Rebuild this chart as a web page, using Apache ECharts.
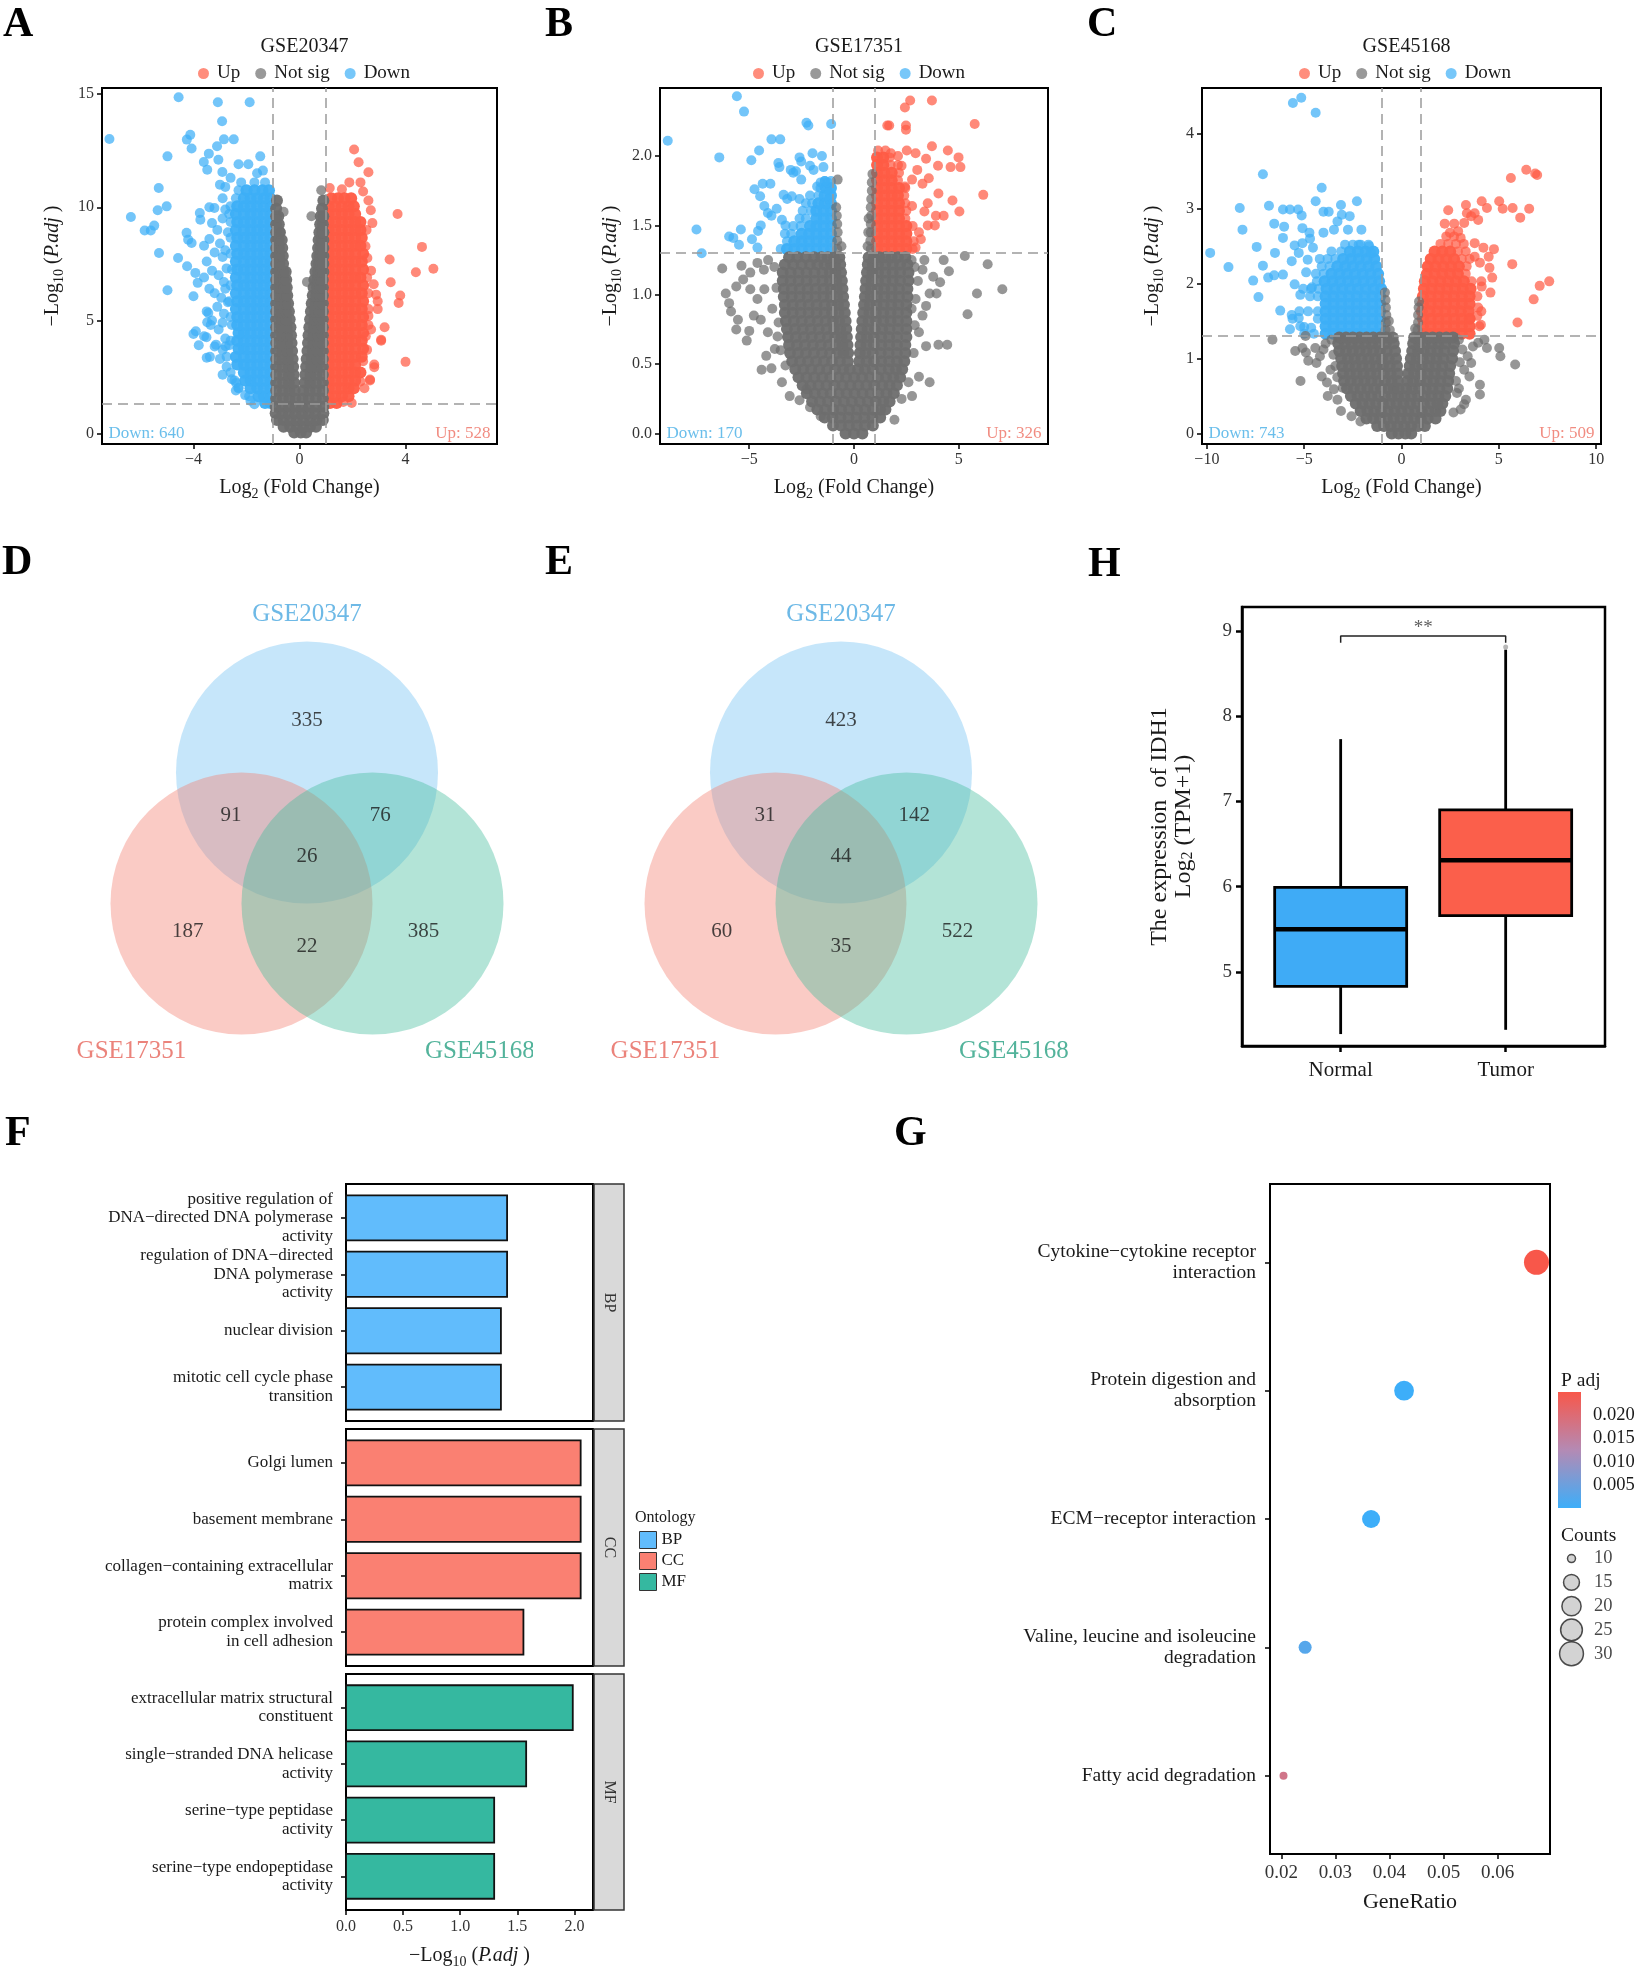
<!DOCTYPE html>
<html><head><meta charset="utf-8"><title>Figure</title>
<script src="https://cdn.jsdelivr.net/npm/echarts@6/dist/echarts.min.js"></script>
<style>html,body{margin:0;padding:0;background:#fff;}#chart{width:1642px;height:1977px;}</style>
</head><body><div id="chart"></div>
<script>
// ================= DATA =================
// --- Volcano plots (x = log2 FC, y = -log10 P.adj) ---
const volcanoTitles = ['GSE20347', 'GSE17351', 'GSE45168'];
const downCounts = [640, 170, 743];
const upCounts = [528, 326, 509];
const fcCut = 1, pCut = 0.05;
const xTicksVolcano = [[-4, 0, 4], [-5, 0, 5], [-10, -5, 0, 5, 10]];
const yTicksVolcano = [[0, 5, 10, 15], [0, 0.5, 1, 1.5, 2], [0, 1, 2, 3, 4]];

// dense (over-plotted) areas as rows: [y, [x, x, ...]];  sparser points: flat [x, y, x, y, ...]
const greyA = [
[0.05,[-0.2,0.05,0.25]],[0.3,[-0.6,-0.35,-0.1,0.15,0.4,0.62]],[0.6,[-0.85,-0.6,-0.35,-0.1,0.15,0.4,0.65,0.88]],
[0.9,[-0.9,-0.65,-0.4,-0.15,0.1,0.35,0.6,0.9]],[1.2,[-0.9,-0.65,-0.4,-0.15,0.1,0.35,0.62,0.9]],
[1.55,[-0.88,-0.62,-0.38,-0.15,0.12,0.35,0.62,0.88]],[1.9,[-0.88,-0.62,-0.38,-0.18,0.15,0.38,0.62,0.88]],
[2.25,[-0.88,-0.62,-0.4,-0.2,0.2,0.4,0.62,0.88]],[2.6,[-0.88,-0.62,-0.4,-0.22,0.22,0.42,0.64,0.88]],
[2.95,[-0.88,-0.64,-0.42,-0.24,0.25,0.45,0.66,0.88]],[3.3,[-0.88,-0.64,-0.44,-0.26,0.27,0.47,0.67,0.88]],
[3.65,[-0.88,-0.65,-0.45,-0.28,0.3,0.5,0.69,0.88]],[4.0,[-0.88,-0.66,-0.46,-0.3,0.32,0.52,0.7,0.88]],
[4.35,[-0.88,-0.66,-0.47,-0.32,0.34,0.53,0.71,0.88]],[4.7,[-0.88,-0.67,-0.48,-0.34,0.37,0.55,0.72,0.88]],
[5.05,[-0.88,-0.68,-0.5,-0.37,0.4,0.57,0.73,0.88]],[5.4,[-0.88,-0.69,-0.51,-0.4,0.43,0.59,0.74,0.88]],
[5.75,[-0.88,-0.7,-0.53,-0.43,0.46,0.61,0.75,0.88]],[6.1,[-0.88,-0.7,-0.55,-0.46,0.5,0.63,0.77,0.88]],
[6.45,[-0.88,-0.72,-0.56,-0.48,0.53,0.66,0.78,0.88]],[6.8,[-0.88,-0.73,-0.58,-0.5,0.56,0.68,0.8,0.88]],
[7.15,[-0.88,-0.74,-0.6,-0.52,0.6,0.7,0.82,0.9]],[7.5,[-0.88,-0.75,-0.62,0.64,0.73,0.83,0.9]],
[7.85,[-0.88,-0.76,-0.63,0.67,0.76,0.85,0.9]],[8.2,[-0.88,-0.77,-0.65,0.7,0.8,0.9]],
[8.55,[-0.88,-0.78,-0.67,0.72,0.82,0.9]],[8.9,[-0.88,-0.75,0.75,0.85,0.9]],
[9.25,[-0.88,-0.78,0.78,0.88]],[9.6,[-0.88,-0.8,0.8,0.9]],[9.95,[-0.88,0.85]],
[10.3,[-0.85,0.9]]
];
const greyAx = [0.28,6.7,-0.7,8.9,0.45,9.6,-0.6,9.8,0.82,10.75];
const blueA = [
[1.35,[-1.1,-1.3]],[1.65,[-1.1,-1.35,-1.55]],[2.0,[-1.1,-1.35,-1.6,-1.85]],
[2.35,[-1.1,-1.35,-1.6,-1.85,-2.05]],[2.7,[-1.1,-1.35,-1.6,-1.85,-2.1]],
[3.05,[-1.1,-1.35,-1.6,-1.85,-2.1,-2.35]],[3.4,[-1.1,-1.35,-1.6,-1.85,-2.1,-2.4]],
[3.75,[-1.1,-1.35,-1.6,-1.85,-2.1,-2.3]],[4.1,[-1.1,-1.35,-1.6,-1.85,-2.1,-2.35]],
[4.45,[-1.1,-1.35,-1.6,-1.85,-2.1,-2.3]],[4.8,[-1.1,-1.35,-1.6,-1.85,-2.1,-2.35]],
[5.15,[-1.1,-1.35,-1.6,-1.85,-2.1,-2.35]],[5.5,[-1.1,-1.35,-1.6,-1.85,-2.1,-2.4]],
[5.85,[-1.1,-1.35,-1.6,-1.85,-2.1,-2.35]],[6.2,[-1.1,-1.35,-1.6,-1.85,-2.1,-2.4]],
[6.55,[-1.1,-1.35,-1.6,-1.85,-2.1,-2.35]],[6.9,[-1.1,-1.35,-1.6,-1.85,-2.1,-2.4]],
[7.25,[-1.1,-1.35,-1.6,-1.85,-2.1,-2.35]],[7.6,[-1.1,-1.35,-1.6,-1.85,-2.1,-2.4]],
[7.95,[-1.1,-1.35,-1.6,-1.85,-2.1,-2.35]],[8.3,[-1.1,-1.35,-1.6,-1.85,-2.1,-2.4]],
[8.65,[-1.1,-1.35,-1.6,-1.85,-2.1,-2.35]],[9.0,[-1.1,-1.35,-1.6,-1.85,-2.1,-2.4]],
[9.35,[-1.1,-1.35,-1.6,-1.85,-2.1,-2.35]],[9.7,[-1.1,-1.35,-1.6,-1.85,-2.1,-2.4]],
[10.05,[-1.1,-1.35,-1.6,-1.85,-2.1,-2.35]],[10.4,[-1.1,-1.35,-1.6,-1.85,-2.1]],
[10.75,[-1.15,-1.4,-1.7,-2.0]]
];
const blueAx = [-4.56,14.86,-3.08,14.64,-1.88,14.64,-2.92,13.8,-7.17,13.02,-4.25,12.99,-4.12,13.2,-4.07,12.6,-2.85,13.0,-2.48,13.0,-3.11,12.7,-4.98,12.25,-3.42,12.37,-3.61,12.0,-3.48,11.66,-3.06,12.1,-2.91,11.56,-2.3,11.9,-1.93,11.9,-1.48,12.25,-1.38,11.62,-1.6,11.5,-2.6,11.3,-2.8,10.9,-5.31,10.85,-5.01,10.04,-5.35,9.87,-6.36,9.57,-5.84,8.97,-5.61,8.97,-5.48,9.19,-5.3,7.98,-4.58,7.76,-4.26,8.87,-4.2,8.57,-4.07,8.42,-3.76,9.75,-3.74,9.45,-3.21,9.97,-4.24,7.39,-3.93,7.1,-4.0,6.07,-3.84,6.66,-4.98,6.33,-3.3,9.3,-3.1,9.0,-2.9,9.5,-3.4,8.6,-3.6,8.3,-3.2,8.0,-3.0,8.4,-2.9,7.8,-3.5,7.6,-3.3,7.2,-3.05,7.0,-2.85,6.7,-3.6,6.9,-3.4,6.4,-3.2,6.2,-2.95,6.0,-3.1,5.6,-2.85,5.3,-3.3,5.0,-3.5,5.4,-2.9,4.9,-4.0,4.4,-3.6,4.3,-3.35,4.8,-3.05,4.6,-2.8,4.2,-3.8,3.9,-3.2,3.85,-2.9,3.7,-3.5,3.35,-3.0,3.3,-2.75,2.95,-2.55,2.4,-2.9,2.6,-2.4,1.9,-2.05,1.7,-1.85,1.45,-1.7,1.3,-2.65,3.9,-2.7,5.8,-2.8,6.4,-2.75,7.3,-2.8,8.1,-2.7,8.9,-2.8,9.9,-2.9,10.4,-3.4,10.0,-3.0,11.0,-3.91,4.52,-3.51,4.26,-3.15,3.93,-2.79,3.86,-3.38,3.39,-3.48,4.92,-3.44,5.33,-2.39,2.24,-2.3,2.02,-1.9,1.65,-2.3,2.0,-2.45,2.35,-2.6,2.7,-2.75,3.4,-2.6,4.1,-2.55,4.8,-2.6,5.15,-2.65,5.85,-2.6,6.55,-2.55,7.25,-2.6,7.95,-2.6,8.65,-2.6,9.35,-2.65,9.7,-2.6,10.05,-2.4,10.4,-2.3,10.75,-1.3,11.1,-1.7,11.1,-2.2,11.1];
const redA = [
[1.35,[1.15,1.4]],[1.65,[1.1,1.35,1.6,1.85]],[2.0,[1.1,1.35,1.6,1.85,2.05]],
[2.35,[1.1,1.35,1.6,1.85,2.1]],[2.7,[1.1,1.35,1.6,1.85,2.1,2.3]],[3.05,[1.1,1.35,1.6,1.85,2.1]],
[3.4,[1.1,1.35,1.6,1.85,2.1,2.35]],[3.75,[1.1,1.35,1.6,1.85,2.1,2.4]],[4.1,[1.1,1.35,1.6,1.85,2.1,2.35]],
[4.45,[1.1,1.35,1.6,1.85,2.1,2.4]],[4.8,[1.1,1.35,1.6,1.85,2.1,2.35]],[5.15,[1.1,1.35,1.6,1.85,2.1,2.4]],
[5.5,[1.1,1.35,1.6,1.85,2.1,2.35]],[5.85,[1.1,1.35,1.6,1.85,2.1,2.4]],[6.2,[1.1,1.35,1.6,1.85,2.1,2.35]],
[6.55,[1.1,1.35,1.6,1.85,2.1,2.4]],[6.9,[1.1,1.35,1.6,1.85,2.1,2.3]],[7.25,[1.1,1.35,1.6,1.85,2.1,2.4]],
[7.6,[1.1,1.35,1.6,1.85,2.1,2.35]],[7.95,[1.1,1.35,1.6,1.85,2.1,2.4]],[8.3,[1.1,1.35,1.6,1.85,2.1,2.3]],
[8.65,[1.1,1.35,1.6,1.85,2.1,2.35]],[9.0,[1.1,1.35,1.6,1.85,2.1,2.3]],[9.35,[1.1,1.35,1.6,1.85,2.1,2.3]],
[9.7,[1.1,1.35,1.6,1.85,2.1]],[10.05,[1.1,1.35,1.6,1.85,2.05]],[10.4,[1.2,1.45,1.7,1.95]]
];
const redAx = [2.06,12.55,2.23,11.99,2.6,11.55,2.3,11.1,1.88,11.1,1.14,10.85,1.6,10.8,2.69,9.87,3.7,9.7,4.62,8.25,4.39,7.13,5.05,7.28,3.4,7.69,3.44,6.69,3.8,6.1,3.74,5.77,2.89,6.14,2.95,5.85,3.21,4.7,3.08,4.15,4.0,3.17,2.82,2.93,2.66,2.39,2.56,7.76,2.53,9.0,2.49,8.28,2.7,7.2,2.8,6.6,2.6,5.2,2.7,4.6,2.5,4.3,2.55,3.7,2.4,3.2,2.45,2.0,1.97,1.35,1.65,1.4,2.95,5.5,2.75,9.3,2.6,10.3,2.4,10.7,2.66,2.35,2.82,3.05,3.08,4.1,2.6,4.8,2.6,5.5,2.6,6.2,2.55,6.9,2.3,2.3];

const greyB = [
[0.0,[-0.4,0,0.4]],[0.058,[-1.0,-0.62,-0.24,0.14,0.52,0.9]],[0.116,[-1.4,-1.02,-0.64,-0.26,0.12,0.5,0.88,1.25]],
[0.174,[-1.75,-1.37,-0.99,-0.61,-0.23,0.15,0.53,0.91,1.25,1.5]],
[0.232,[-2.0,-1.62,-1.24,-0.86,-0.48,-0.1,0.28,0.66,1.04,1.4,1.7]],
[0.29,[-2.25,-1.87,-1.49,-1.11,-0.73,-0.35,0.03,0.41,0.79,1.17,1.55,1.9]],
[0.348,[-2.45,-2.07,-1.69,-1.31,-0.93,-0.55,-0.17,0.21,0.59,0.97,1.35,1.7,2.05]],
[0.406,[-2.65,-2.27,-1.89,-1.51,-1.13,-0.75,-0.37,0.01,0.39,0.77,1.15,1.53,1.88,2.2]],
[0.464,[-2.8,-2.42,-2.04,-1.66,-1.28,-0.9,-0.52,-0.2,0.2,0.52,0.9,1.28,1.66,2.0,2.3]],
[0.522,[-2.95,-2.57,-2.19,-1.81,-1.43,-1.05,-0.67,-0.3,0.25,0.6,0.95,1.3,1.68,2.05,2.4]],
[0.58,[-3.05,-2.67,-2.29,-1.91,-1.53,-1.15,-0.8,-0.5,-0.28,0.28,0.55,0.9,1.28,1.66,2.05,2.45]],
[0.638,[-3.1,-2.72,-2.34,-1.96,-1.58,-1.2,-0.85,-0.55,-0.31,0.31,0.6,0.95,1.3,1.68,2.06,2.45]],
[0.696,[-3.15,-2.77,-2.39,-2.01,-1.63,-1.25,-0.9,-0.6,-0.34,0.34,0.62,0.95,1.3,1.68,2.06,2.5]],
[0.754,[-3.2,-2.82,-2.44,-2.06,-1.68,-1.3,-0.95,-0.65,-0.37,0.37,0.65,1.0,1.35,1.7,2.1,2.5]],
[0.812,[-3.25,-2.87,-2.49,-2.11,-1.73,-1.35,-1.0,-0.7,-0.4,0.4,0.7,1.05,1.4,1.75,2.1,2.5]],
[0.87,[-3.3,-2.92,-2.54,-2.16,-1.78,-1.4,-1.05,-0.74,-0.44,0.44,0.74,1.05,1.4,1.75,2.1,2.5]],
[0.928,[-3.3,-2.92,-2.54,-2.16,-1.78,-1.4,-1.05,-0.76,-0.48,0.48,0.76,1.08,1.42,1.78,2.12,2.5]],
[0.986,[-3.35,-2.97,-2.59,-2.21,-1.83,-1.45,-1.1,-0.8,-0.52,0.52,0.8,1.1,1.45,1.8,2.15,2.55]],
[1.044,[-3.35,-2.97,-2.59,-2.21,-1.83,-1.45,-1.1,-0.82,-0.55,0.55,0.82,1.12,1.45,1.8,2.15,2.55]],
[1.102,[-3.4,-3.02,-2.64,-2.26,-1.88,-1.5,-1.15,-0.85,-0.58,0.58,0.85,1.15,1.5,1.85,2.2,2.6]],
[1.16,[-3.4,-3.02,-2.64,-2.26,-1.88,-1.5,-1.15,-0.88,-0.62,0.62,0.88,1.15,1.5,1.85,2.2,2.6]],
[1.218,[-3.3,-2.9,-2.5,-2.1,-1.75,-1.4,-1.1,-0.9,-0.66,0.66,0.9,1.15,1.5,1.85,2.2,2.55]],
[1.27,[-3.1,-2.7,-2.3,-1.9,-1.55,-1.25,-0.95,-0.7,0.7,0.95,1.2,1.5,1.8,2.1,2.45]]
];
const greyBx = [-0.8,1.33,-0.8,1.39,-0.78,1.45,-0.8,1.51,-0.82,1.57,-0.85,1.63,-0.78,1.83,-0.6,1.35,0.8,1.33,0.78,1.39,0.8,1.45,0.8,1.51,0.82,1.57,0.8,1.63,0.82,1.69,0.85,1.75,0.85,1.81,0.88,1.87,0.65,1.35,0.68,1.45,0.7,1.55,-6.29,1.19,-6.12,1.01,-5.96,0.94,-5.87,0.88,-5.54,0.82,-5.62,0.75,-5.12,0.67,-5.0,0.74,-4.41,0.46,-3.94,0.47,-3.07,0.27,-2.1,0.19,-1.59,0.125,4.28,1.25,5.29,1.28,6.38,1.22,5.87,1.01,7.08,1.04,5.42,0.86,4.53,1.17,4.11,1.09,3.94,1.01,3.61,1.01,4.03,0.64,4.45,0.64,3.44,0.63,3.61,0.37,3.1,0.41,2.77,0.27,3.36,1.25,3.27,1.18,3.78,1.13,-5.37,1.21,-5.29,1.11,-4.95,1.16,-4.61,1.23,-5.62,1.06,-4.95,1.04,-4.61,0.97,-4.28,1.04,-4.78,0.85,-4.45,0.82,-4.11,0.73,-4.19,0.56,-3.78,0.61,-3.44,0.37,-3.27,0.49,-2.6,0.24,-2.27,0.32,3.1,0.73,2.85,0.58,3.27,0.85,2.94,0.97,2.6,0.37,2.27,0.25,1.93,0.1,3.44,0.92,-3.8,1.2,-4.1,1.25,-3.7,1.05,-3.9,0.9,-3.6,0.8,-4.3,1.18,-3.65,0.7,-3.5,0.6,2.9,1.2,3.05,1.1,2.9,0.78,2.75,0.9,2.75,1.25];
const blueB = [
[1.33,[-1.1,-1.45,-1.8,-2.15,-2.5,-2.85,-3.2]],[1.385,[-1.1,-1.45,-1.8,-2.15,-2.5,-2.85]],
[1.44,[-1.1,-1.45,-1.8,-2.15,-2.5]],[1.495,[-1.1,-1.45,-1.8,-2.1]],
[1.55,[-1.1,-1.45,-1.8]],[1.605,[-1.1,-1.45,-1.8]],[1.66,[-1.1,-1.4,-1.7]],
[1.715,[-1.1,-1.4]],[1.77,[-1.1,-1.35]]
];
const blueBx = [-3.5,1.33,-3.2,1.385,-3.0,1.44,-3.3,1.44,-2.55,1.495,-2.9,1.495,-2.3,1.55,-2.6,1.55,-2.05,1.605,-2.45,1.605,-2.0,1.66,-2.3,1.66,-1.7,1.715,-2.1,1.715,-1.6,1.77,-1.1,1.82,-1.4,1.82,-5.59,2.43,-5.25,2.32,-8.89,2.11,-2.27,2.24,-2.18,2.22,-1.09,2.23,-3.94,2.12,-3.52,2.12,-6.43,1.99,-4.9,1.97,-4.53,2.04,-2.6,1.99,-1.98,2.02,-1.53,2.0,-1.46,1.92,-3.61,1.95,-3.56,1.92,-3.02,1.9,-2.77,1.89,-2.52,1.83,-2.9,1.88,-4.75,1.76,-4.36,1.8,-3.99,1.8,-4.48,1.71,-7.52,1.47,-7.27,1.3,-5.96,1.42,-5.76,1.41,-5.49,1.36,-5.4,1.47,-4.87,1.4,-4.58,1.46,-4.45,1.5,-4.11,1.59,-4.28,1.64,-3.94,1.57,-3.36,1.72,-3.19,1.69,-2.97,1.71,-2.6,1.69,-1.59,1.81,-1.39,1.82,-1.26,1.81,-1.76,1.78,-1.17,1.69,-3.44,1.54,-3.69,1.62,-3.27,1.5,-2.1,1.93,-1.93,1.9,-2.52,1.96,-4.61,1.34];
const redB = [
[1.33,[1.1,1.45,1.8,2.15,2.5]],[1.385,[1.1,1.45,1.8,2.15,2.5]],[1.44,[1.1,1.45,1.8,2.15,2.5]],
[1.495,[1.1,1.45,1.8,2.15,2.5]],[1.55,[1.1,1.45,1.8,2.15]],[1.605,[1.1,1.45,1.8,2.15]],
[1.66,[1.1,1.45,1.8,2.15]],[1.715,[1.1,1.45,1.8,2.1]],[1.77,[1.1,1.45,1.8,2.15]],
[1.825,[1.1,1.45,1.8]],[1.88,[1.1,1.45,1.8]],[1.935,[1.1,1.4]],[1.99,[1.1,1.4]]
];
const redBx = [2.8,1.33,2.85,1.385,2.8,1.495,2.45,1.55,2.5,1.605,2.45,1.66,2.4,1.715,2.45,1.77,2.1,1.825,2.15,1.88,1.75,1.935,2.1,1.935,1.7,1.99,1.15,2.04,1.5,2.04,2.68,2.40,2.43,2.35,3.72,2.40,1.59,2.22,1.68,2.22,2.48,2.22,2.48,2.19,5.76,2.23,2.52,2.04,2.94,2.02,3.72,2.07,4.48,2.04,4.99,1.99,5.08,1.92,4.61,1.92,4.01,1.93,3.44,1.98,6.17,1.72,4.03,1.73,3.52,1.66,4.7,1.68,5.03,1.6,3.57,1.84,3.27,1.8,2.77,1.83,3.91,1.57,3.52,1.5,3.1,1.45,3.19,1.4,2.94,1.34,2.1,2.0,1.76,2.02,2.27,1.93,3.02,1.9,2.43,1.78,2.77,1.64,4.28,1.57,3.86,1.5,3.36,1.6];

const greyC = [
[0.0,[-0.5,-0.15,0.2,0.5]],[0.1,[-1.25,-0.9,-0.55,-0.2,0.15,0.5,0.85,1.2]],
[0.2,[-1.8,-1.45,-1.1,-0.75,-0.4,-0.05,0.3,0.65,1.0,1.35,1.75]],
[0.3,[-2.1,-1.75,-1.4,-1.05,-0.7,-0.35,0,0.35,0.7,1.05,1.4,1.75,2.0]],
[0.4,[-2.35,-2.0,-1.65,-1.3,-0.95,-0.6,-0.25,0.1,0.45,0.8,1.15,1.5,1.85,2.1]],
[0.5,[-2.6,-2.25,-1.9,-1.55,-1.2,-0.85,-0.5,-0.18,0.15,0.5,0.85,1.2,1.55,1.9,2.25]],
[0.6,[-2.8,-2.45,-2.1,-1.75,-1.4,-1.05,-0.7,-0.4,-0.15,0.25,0.55,0.9,1.25,1.6,1.95,2.35]],
[0.7,[-2.95,-2.6,-2.25,-1.9,-1.55,-1.2,-0.85,-0.5,-0.18,0.3,0.6,0.95,1.3,1.65,2.0,2.4]],
[0.8,[-3.0,-2.65,-2.3,-1.95,-1.6,-1.25,-0.9,-0.55,-0.2,0.35,0.65,1.0,1.35,1.7,2.05,2.45]],
[0.9,[-3.05,-2.7,-2.35,-2.0,-1.65,-1.3,-0.95,-0.6,-0.23,0.42,0.7,1.05,1.4,1.75,2.1,2.5]],
[1.0,[-3.1,-2.75,-2.4,-2.05,-1.7,-1.35,-1.0,-0.65,-0.28,0.48,0.78,1.1,1.45,1.8,2.15,2.6]],
[1.1,[-3.2,-2.85,-2.5,-2.15,-1.8,-1.45,-1.1,-0.75,-0.33,0.55,0.85,1.15,1.5,1.85,2.2,2.65]],
[1.2,[-3.25,-2.9,-2.55,-2.2,-1.85,-1.5,-1.15,-0.8,-0.4,0.6,0.9,1.2,1.55,1.9,2.25,2.7]],
[1.28,[-3.2,-2.85,-2.5,-2.15,-1.8,-1.45,-1.1,-0.78,-0.45,0.65,0.95,1.25,1.6,1.95,2.3,2.65]]
];
const greyCx = [-0.82,1.38,-0.8,1.48,-0.78,1.58,-0.8,1.68,-0.82,1.78,-0.85,1.88,-0.6,1.38,-0.65,1.5,0.82,1.38,0.85,1.48,0.85,1.58,0.88,1.68,0.9,1.76,0.7,1.4,-6.63,1.25,-5.46,1.1,-5.09,1.14,-4.91,1.08,-4.79,0.97,-5.19,0.7,-4.37,0.94,-4.19,1.03,-4.01,1.12,-4.1,0.76,-3.65,0.85,-3.83,0.68,-3.47,0.59,-3.29,0.45,-3.02,0.61,-4.43,1.14,-4.93,1.3,-3.79,0.5,-3.11,0.3,-2.57,0.23,-2.11,0.16,3.94,1.21,4.26,1.25,4.39,1.14,5.02,1.14,5.08,1.03,5.84,0.92,4.03,0.65,4.03,0.52,3.31,0.45,3.22,0.39,3.04,0.32,3.58,0.94,3.4,1.03,3.22,0.85,3.49,0.76,2.85,0.54,2.67,0.28,3.13,1.12,3.67,1.16,-3.6,1.25,-3.9,1.2,-3.5,1.05,-3.4,0.9,-3.3,0.75,2.95,1.25,3.0,0.95,2.8,0.7,2.95,0.6];
const blueC = [
[1.33,[-1.1,-1.5,-1.9,-2.3,-2.7,-3.1,-3.5,-3.9]],[1.43,[-1.1,-1.5,-1.9,-2.3,-2.7,-3.1,-3.5,-3.9]],
[1.53,[-1.1,-1.5,-1.9,-2.3,-2.7,-3.1,-3.5,-3.9]],[1.63,[-1.1,-1.5,-1.9,-2.3,-2.7,-3.1,-3.5,-3.9]],
[1.73,[-1.1,-1.5,-1.9,-2.3,-2.7,-3.1,-3.5,-3.9]],[1.83,[-1.1,-1.5,-1.9,-2.3,-2.7,-3.1,-3.5,-3.9]],
[1.93,[-1.05,-1.45,-1.85,-2.25,-2.65,-3.05,-3.45,-3.85]],
[2.03,[-1.15,-1.55,-1.95,-2.35,-2.75,-3.15,-3.55,-3.95]],[2.13,[-1.2,-1.6,-2.0,-2.4,-2.8,-3.2,-3.6]],
[2.23,[-1.3,-1.7,-2.1,-2.5,-2.9,-3.3]],[2.33,[-1.4,-1.8,-2.2,-2.6,-3.0]],
[2.43,[-1.45,-1.85,-2.25,-2.65]]
];
const blueCx = [-4.5,1.33,-5.0,1.33,-5.2,1.43,-4.3,1.53,-5.6,1.53,-4.3,1.63,-4.8,1.63,-5.25,1.63,-4.3,1.83,-4.7,1.83,-4.25,1.93,-4.65,1.93,-5.05,1.93,-4.35,2.03,-4.0,2.13,-4.4,2.13,-3.7,2.23,-4.1,2.23,-3.4,2.33,-3.8,2.33,-4.2,2.33,-3.1,2.43,-3.6,2.43,-1.7,2.52,-2.1,2.52,-2.5,2.52,-2.9,2.52,-5.58,4.41,-5.15,4.48,-4.41,4.28,-7.12,3.46,-4.1,3.28,-9.83,2.41,-8.89,2.22,-8.31,3.01,-8.17,2.72,-7.62,2.04,-7.35,1.82,-7.44,2.49,-7.12,2.24,-6.81,3.04,-6.85,2.08,-6.54,2.11,-6.5,2.41,-6.54,2.8,-6.03,2.76,-6.09,2.99,-5.73,2.99,-5.31,2.99,-5.13,2.91,-6.09,2.61,-5.49,2.51,-5.09,2.74,-4.7,2.6,-5.28,2.41,-5.64,2.3,-6.09,2.12,-5.49,1.99,-6.23,1.64,-5.64,1.58,-5.28,1.54,-5.0,1.42,-5.73,1.39,-4.64,1.41,-4.41,3.1,-4.01,2.96,-3.74,2.96,-3.11,3.05,-3.07,2.92,-2.29,3.1,-2.06,2.72,-2.75,2.72,-3.29,2.83,-3.47,2.72,-4.01,2.68,-2.66,2.9,-4.73,2.68,-4.55,2.48,-5.09,2.54,-4.82,2.32,-2.2,2.52,-1.66,2.5,-1.57,2.41,-4.9,2.15,-5.2,1.85,-4.6,1.95];
const redC = [
[1.33,[1.1,1.5,1.9,2.3,2.7,3.1,3.5]],[1.43,[1.1,1.5,1.9,2.3,2.7,3.1,3.5]],[1.53,[1.1,1.5,1.9,2.3,2.7,3.1,3.5]],
[1.63,[1.05,1.45,1.85,2.25,2.65,3.05,3.45]],[1.73,[1.1,1.5,1.9,2.3,2.7,3.1,3.5]],
[1.83,[1.1,1.5,1.9,2.3,2.7,3.1,3.5]],[1.93,[1.15,1.55,1.95,2.35,2.75,3.15,3.55]],
[2.03,[1.2,1.6,2.0,2.4,2.8,3.2]],[2.13,[1.3,1.7,2.1,2.5,2.9]],[2.23,[1.35,1.75,2.15,2.55,2.95]],
[2.33,[1.5,1.9,2.3,2.7]],[2.43,[1.7,2.1,2.5]]
];
const redCx = [4.0,1.43,4.1,1.63,3.9,1.83,3.6,2.03,4.1,2.03,3.3,2.13,3.35,2.23,3.1,2.33,3.5,2.33,2.9,2.43,3.3,2.43,2.0,2.53,2.4,2.53,2.8,2.53,3.2,2.53,2.3,2.63,2.7,2.63,6.41,3.52,6.87,3.47,6.97,3.45,5.62,3.41,2.4,2.98,3.31,3.05,4.12,3.1,4.39,3.01,3.76,2.94,3.36,2.94,5.02,3.1,5.2,3.0,5.71,3.01,6.56,3.0,6.1,2.88,3.94,2.85,3.58,2.9,2.22,2.8,2.71,2.8,3.22,2.81,4.75,2.46,4.21,2.48,3.76,2.54,5.69,2.26,7.59,2.03,7.1,1.97,6.79,1.79,5.96,1.48,4.52,2.21,4.66,2.08,4.12,1.96,4.57,1.88,3.94,1.68,4.08,1.45,3.54,1.53,3.9,1.57,4.03,2.28,3.76,2.36,4.48,2.36,2.91,2.7,3.04,2.61,2.49,2.68];

// --- Venn diagrams (D, E) ---
const vennSets = ['GSE20347', 'GSE17351', 'GSE45168'];
// region order: 20347 only, 20347&17351, 20347&45168, all three, 17351 only, 17351&45168, 45168 only
const vennD = [335, 91, 76, 26, 187, 22, 385];
const vennE = [423, 31, 142, 44, 60, 35, 522];

// --- H: IDH1 expression boxplot ---
const hCats = ['Normal', 'Tumor'];
const hStats = [[4.27, 4.83, 5.50, 5.99, 7.73], [4.32, 5.66, 6.31, 6.90, 8.78]]; // min, Q1, median, Q3, max
const hOutliers = [[1, 8.81]];
const hSig = '**';

// --- F: GO enrichment ---
const goGroups = ['BP', 'CC', 'MF'];
const goTerms = [
  ['positive regulation of\nDNA\u2212directed DNA polymerase\nactivity', 'regulation of DNA\u2212directed\nDNA polymerase\nactivity', 'nuclear division', 'mitotic cell cycle phase\ntransition'],
  ['Golgi lumen', 'basement membrane', 'collagen\u2212containing extracellular\nmatrix', 'protein complex involved\nin cell adhesion'],
  ['extracellular matrix structural\nconstituent', 'single\u2212stranded DNA helicase\nactivity', 'serine\u2212type peptidase\nactivity', 'serine\u2212type endopeptidase\nactivity']
];
const goValues = [[1.41, 1.41, 1.356, 1.356], [2.054, 2.054, 2.054, 1.553], [1.985, 1.577, 1.297, 1.297]];
const goXTicks = [0, 0.5, 1, 1.5, 2];

// --- G: KEGG dot plot ---
const keggTerms = ['Cytokine\u2212cytokine receptor\ninteraction', 'Protein digestion and\nabsorption', 'ECM\u2212receptor interaction', 'Valine, leucine and isoleucine\ndegradation', 'Fatty acid degradation'];
const keggRatio = [0.0672, 0.0427, 0.0366, 0.0244, 0.0204];
const keggCount = [33, 21, 18, 12, 10];
const keggPadj = [0.0248, 0.0003, 0.0003, 0.0028, 0.0175];
const keggXTicks = [0.02, 0.03, 0.04, 0.05, 0.06];
const padjTicks = [0.005, 0.010, 0.015, 0.020];
const countLegend = [10, 15, 20, 25, 30];

// ================= LAYOUT / STYLE =================
const FONT = '"Liberation Serif","Times New Roman",serif';
const INK = '#1a1a1a';
const C_UP = '#FF5C45', C_DOWN = '#3DAFF7', C_NS = '#6E6E6E';
const DENSE_OPACITY = 0.96, SPARSE_OPACITY = 0.72, DENSE_SIZE = 12, SPARSE_SIZE = 10;
const VG = [{left:102,top:88,width:395,height:356},{left:660,top:88,width:388,height:356},{left:1202,top:88,width:399,height:356}];
const VX = [[-7.45,7.45],[-9.26,9.26],[-10.25,10.25]];
const VY = [[-0.46,15.27],[-0.075,2.49],[-0.14,4.61]];
const VLEG = [193, 748, 1294];
const VENN_GRID = [{left:45,top:563,width:524,height:524},{left:579,top:563,width:524,height:524}];
const VENN_CENTERS = [[0,0],[-0.5,-1],[0.5,-1]];
const VENN_FILL = ['#70C0F2','#F27D6E','#41BB9B'];
const VENN_TEXT = ['#4AA8E0','#E6645A','#28A082'];
const VENN_REGION_POS = [[0,0.40],[-0.58,-0.33],[0.56,-0.33],[0,-0.64],[-0.91,-1.21],[0,-1.33],[0.89,-1.21]];
const VENN_NAME_POS = [[0,1.21],[-1.34,-2.13],[1.32,-2.13]];
const F_LEFT = 346, F_W = 247, F_TOPS = [1184,1429,1674], F_HS = [237,237,236], STRIP_W = 30;
const GO_COLORS = ['#61BCFC','#FA8072','#35B8A0'];
const BOX_COLORS = ['#3FABF6','#FB5F4B'];
const PMIN = 0.00027, PMAX = 0.0248;
const C_LOW = '#3DAEF9', C_MID = '#B48AB4', C_HIGH = '#F8574A';
const sizeOf = c => 8 + 17 * Math.sqrt(Math.max(0, c - 10) / 23);

// ================= HELPERS =================
const rowsToPts = rows => rows.flatMap(([y, xs]) => xs.map(x => [x, y]));
const pairs = flat => { const o = []; for (let i = 0; i < flat.length; i += 2) o.push([flat[i], flat[i+1]]); return o; };
const txt = (size, extra) => Object.assign({fontFamily: FONT, fontSize: size, color: INK}, extra || {});
const minus = v => (v < 0 ? '\u2212' + Math.abs(v) : String(v));
const richLog = (base, sub) => ({
  n: txt(base, {lineHeight: base + 6}),
  i: txt(base, {lineHeight: base + 6, fontStyle: 'italic'}),
  s: txt(sub, {lineHeight: sub, verticalAlign: 'bottom'})
});
const NAME_PADJ = '{n|\u2212Log}{s|10}{n| (}{i|P.adj}{n| )}';
const LBL_ALL = {showMinLabel: true, showMaxLabel: true, hideOverlap: false};

const grids = [], xAxes = [], yAxes = [], series = [], titles = [], legends = [], graphics = [];

// ================= VOLCANO (A, B, C) =================
const VDATA = [
  {blue: [blueA, blueAx], red: [redA, redAx], grey: [greyA, greyAx]},
  {blue: [blueB, blueBx], red: [redB, redBx], grey: [greyB, greyBx]},
  {blue: [blueC, blueCx], red: [redC, redCx], grey: [greyC, greyCx]}
];
VDATA.forEach((d, i) => {
  grids.push(Object.assign({show: true, borderColor: '#000', borderWidth: 2, backgroundColor: 'transparent', outerBoundsMode: 'none'}, VG[i]));
  xAxes.push({gridIndex: i, type: 'value', min: VX[i][0], max: VX[i][1], splitLine: {show: false},
    axisLine: {show: true, onZero: false, lineStyle: {color: '#000', width: 2}},
    axisTick: {show: true, customValues: xTicksVolcano[i], length: 5, lineStyle: {color: '#000', width: 1.5}},
    axisLabel: Object.assign({customValues: xTicksVolcano[i], formatter: minus, margin: 8}, LBL_ALL, txt(16, {color: '#333'})),
    name: '{n|Log}{s|2}{n| (Fold Change)}', nameLocation: 'middle', nameGap: 31,
    nameTextStyle: Object.assign(txt(20), {rich: richLog(20, 14)})});
  const yfmt = i === 1 ? (v => v.toFixed(1)) : (v => String(v));
  yAxes.push({gridIndex: i, type: 'value', min: VY[i][0], max: VY[i][1], splitLine: {show: false},
    axisLine: {show: true, onZero: false, lineStyle: {color: '#000', width: 2}},
    axisTick: {show: true, customValues: yTicksVolcano[i], length: 5, lineStyle: {color: '#000', width: 1.5}},
    axisLabel: Object.assign({customValues: yTicksVolcano[i], formatter: yfmt, margin: 8}, LBL_ALL, txt(16, {color: '#333'})),
    name: NAME_PADJ, nameLocation: 'middle', nameGap: 36, nameRotate: 90,
    nameTextStyle: Object.assign(txt(20), {rich: richLog(20, 14)})});
  const groups = [['Down', d.blue, C_DOWN, 2], ['Up', d.red, C_UP, 2], ['Not sig', d.grey, C_NS, 3]];
  groups.forEach(([nm, [rows, flat], col, z]) => {
    series.push({type: 'scatter', name: nm, xAxisIndex: i, yAxisIndex: i, data: rowsToPts(rows), symbolSize: DENSE_SIZE, silent: true, z: z,
      itemStyle: {color: col, opacity: DENSE_OPACITY}});
    const s = {type: 'scatter', name: nm, xAxisIndex: i, yAxisIndex: i, data: pairs(flat), symbolSize: SPARSE_SIZE, silent: true, z: z,
      itemStyle: {color: col, opacity: SPARSE_OPACITY}};
    if (nm === 'Not sig') {
      s.markLine = {silent: true, symbol: ['none', 'none'], label: {show: false}, animation: false,
        lineStyle: {color: '#9a9a9a', type: [10, 6], width: 1.5},
        data: [{xAxis: -fcCut}, {xAxis: fcCut}, {yAxis: -Math.log10(pCut)}]};
    }
    series.push(s);
  });
  series.push({type: 'scatter', xAxisIndex: i, yAxisIndex: i, symbolSize: 1, silent: true, z: 5, itemStyle: {color: 'rgba(0,0,0,0)'},
    data: [
      {value: [VX[i][0], 0], label: Object.assign({show: true, position: 'right', distance: 6, formatter: 'Down: ' + downCounts[i]}, txt(17, {color: '#45AEE6'}))},
      {value: [VX[i][1], 0], label: Object.assign({show: true, position: 'left', distance: 6, formatter: 'Up: ' + upCounts[i]}, txt(17, {color: '#EE6F62'}))}
    ]});
  titles.push({text: volcanoTitles[i], left: VG[i].left + VG[i].width / 2, top: 32, textAlign: 'center',
    textStyle: txt(20, {fontWeight: 'normal'})});
  legends.push({data: ['Up', 'Not sig', 'Down'], left: VLEG[i], top: 59, icon: 'circle', itemWidth: 17, itemHeight: 11, itemGap: 15,
    selectedMode: false, textStyle: txt(19), itemStyle: {opacity: 0.7}});
});

// ================= VENN (D, E) =================
[vennD, vennE].forEach((counts, k) => {
  const gi = 3 + k;
  grids.push(Object.assign({show: false, outerBoundsMode: 'none'}, VENN_GRID[k]));
  xAxes.push({gridIndex: gi, type: 'value', min: -2, max: 2, show: false});
  yAxes.push({gridIndex: gi, type: 'value', min: -2.4, max: 1.6, show: false});
  series.push({type: 'scatter', xAxisIndex: gi, yAxisIndex: gi, silent: true, z: 1, symbolSize: 262,
    data: VENN_CENTERS.map((c, j) => ({value: c, itemStyle: {color: VENN_FILL[j], opacity: 0.4}}))});
  series.push({type: 'scatter', xAxisIndex: gi, yAxisIndex: gi, silent: true, z: 4, symbolSize: 1, itemStyle: {color: 'rgba(0,0,0,0)'},
    data: VENN_REGION_POS.map((p, j) => ({value: p, label: Object.assign({show: true, position: 'inside', formatter: String(counts[j])}, txt(21))}))});
  series.push({type: 'scatter', xAxisIndex: gi, yAxisIndex: gi, silent: true, z: 4, symbolSize: 1, itemStyle: {color: 'rgba(0,0,0,0)'},
    data: VENN_NAME_POS.map((p, j) => ({value: p, label: Object.assign({show: true, position: 'inside', formatter: vennSets[j]}, txt(25, {color: VENN_TEXT[j]}))}))});
});
// the D panel is cropped at its right edge in the original figure
graphics.push({type: 'rect', silent: true, z: 20, shape: {x: 533, y: 1030, width: 14, height: 44}, style: {fill: '#ffffff'}});

// ================= H boxplot =================
{
  const gi = 5;
  grids.push({left: 1242, top: 607, width: 363, height: 439, show: true, borderColor: '#000', borderWidth: 2.5, outerBoundsMode: 'none'});
  xAxes.push({gridIndex: gi, type: 'value', min: -0.598, max: 1.602, splitLine: {show: false},
    axisLine: {show: true, onZero: false, lineStyle: {color: '#000', width: 2.5}},
    axisTick: {show: true, customValues: [0, 1], length: 6, lineStyle: {color: '#000', width: 2.5}},
    axisLabel: Object.assign({customValues: [0, 1], formatter: v => hCats[Math.round(v)], margin: 14}, LBL_ALL, txt(21))});
  yAxes.push({gridIndex: gi, type: 'value', min: 4.13, max: 9.28, splitLine: {show: false},
    axisLine: {show: true, onZero: false, lineStyle: {color: '#000', width: 2.5}},
    axisTick: {show: true, customValues: [5, 6, 7, 8, 9], length: 6, lineStyle: {color: '#000', width: 2.5}},
    axisLabel: Object.assign({customValues: [5, 6, 7, 8, 9], margin: 10}, LBL_ALL, txt(19, {color: '#333'})),
    name: '{a|The expression  of IDH1}\n{a|Log}{s|2}{a| (TPM+1)}', nameLocation: 'middle', nameRotate: 90, nameGap: 46,
    nameTextStyle: Object.assign(txt(24), {rich: {a: txt(24, {lineHeight: 24}), s: txt(16, {lineHeight: 12, verticalAlign: 'bottom'})}})});
  series.push({type: 'custom', xAxisIndex: gi, yAxisIndex: gi, silent: true, z: 2,
    encode: {x: 0, y: [1, 2, 3, 4, 5]},
    data: hStats.map((s, j) => [j].concat(s)),
    renderItem: (params, api) => {
      const x = api.value(0);
      const p = [1, 2, 3, 4, 5].map(k => api.coord([x, api.value(k)]));
      const w = Math.abs(api.size([0.8, 0])[0]);
      const cx = p[0][0];
      const col = BOX_COLORS[params.dataIndex];
      return {type: 'group', children: [
        {type: 'line', shape: {x1: cx, y1: p[0][1], x2: cx, y2: p[1][1]}, style: {stroke: '#000', lineWidth: 2.8}},
        {type: 'line', shape: {x1: cx, y1: p[3][1], x2: cx, y2: p[4][1]}, style: {stroke: '#000', lineWidth: 2.8}},
        {type: 'rect', shape: {x: cx - w / 2, y: p[3][1], width: w, height: p[1][1] - p[3][1]}, style: {fill: col, stroke: '#000', lineWidth: 2.8}},
        {type: 'line', shape: {x1: cx - w / 2, y1: p[2][1], x2: cx + w / 2, y2: p[2][1]}, style: {stroke: '#000', lineWidth: 4.5}}
      ]};
    }});
  series.push({type: 'scatter', xAxisIndex: gi, yAxisIndex: gi, silent: true, z: 3, symbolSize: 5, data: hOutliers, itemStyle: {color: '#A8A8A8'}});
  const sigY = 8.94, sigTick = 0.08;
  series.push({type: 'line', xAxisIndex: gi, yAxisIndex: gi, silent: true, z: 3, symbol: 'none',
    lineStyle: {color: '#222', width: 1.5},
    data: [[0, sigY - sigTick], [0, sigY], [1, sigY], [1, sigY - sigTick]]});
  series.push({type: 'scatter', xAxisIndex: gi, yAxisIndex: gi, silent: true, z: 3, symbolSize: 1, itemStyle: {color: 'rgba(0,0,0,0)'},
    data: [{value: [0.5, sigY + 0.09], label: Object.assign({show: true, position: 'inside', formatter: hSig}, txt(19, {color: '#333'}))}]});
}

// ================= F GO bars =================
goGroups.forEach((g, k) => {
  const gi = 6 + k;
  grids.push({left: F_LEFT, top: F_TOPS[k], width: F_W, height: F_HS[k], show: true, borderColor: '#000', borderWidth: 2, outerBoundsMode: 'none'});
  const last = k === 2;
  xAxes.push({gridIndex: gi, type: 'value', min: 0, max: 2.162, splitLine: {show: false},
    axisLine: {show: last, onZero: false, lineStyle: {color: '#000', width: 2}},
    axisTick: {show: last, customValues: goXTicks, length: 5, lineStyle: {color: '#000', width: 1.5}},
    axisLabel: Object.assign({show: last, customValues: goXTicks, formatter: v => v.toFixed(1), margin: 9}, LBL_ALL, txt(16, {color: '#333'})),
    name: last ? NAME_PADJ : '', nameLocation: 'middle', nameGap: 33,
    nameTextStyle: Object.assign(txt(20), {rich: richLog(20, 14)})});
  yAxes.push({gridIndex: gi, type: 'value', min: 0.4, max: 4.6, inverse: true, splitLine: {show: false},
    axisLine: {show: true, onZero: false, lineStyle: {color: '#000', width: 2}},
    axisTick: {show: true, customValues: [1, 2, 3, 4], length: 5, lineStyle: {color: '#000', width: 1.5}},
    axisLabel: Object.assign({customValues: [1, 2, 3, 4], formatter: v => goTerms[k][Math.round(v) - 1], margin: 13, lineHeight: 18.5, align: 'right'}, LBL_ALL, txt(17))});
  series.push({type: 'custom', name: g, xAxisIndex: gi, yAxisIndex: gi, silent: true, z: 2,
    itemStyle: {color: GO_COLORS[k]},
    encode: {x: 0, y: 1},
    data: goValues[k].map((v, j) => [v, j + 1]),
    renderItem: (params, api) => {
      const y = api.value(1);
      const a = api.coord([0, y]), b = api.coord([api.value(0), y]);
      const h = Math.abs(api.size([0, 0.8])[1]);
      return {type: 'rect', shape: {x: a[0], y: a[1] - h / 2, width: b[0] - a[0], height: h},
        style: {fill: GO_COLORS[k], stroke: '#111', lineWidth: 1.8}};
    }});
  graphics.push({type: 'rect', silent: true, z: 10, shape: {x: F_LEFT + F_W + 1, y: F_TOPS[k], width: STRIP_W, height: F_HS[k]},
    style: {fill: '#D9D9D9', stroke: '#333', lineWidth: 1.5}});
  graphics.push({type: 'text', silent: true, z: 11, x: F_LEFT + F_W + 1 + STRIP_W / 2, y: F_TOPS[k] + F_HS[k] / 2, rotation: -Math.PI / 2,
    style: {text: g, font: '16px ' + FONT, fill: '#333', align: 'center', verticalAlign: 'middle', textAlign: 'center', textVerticalAlign: 'middle'}});
});
titles.push({text: 'Ontology', left: 630, top: 1505, textStyle: txt(16, {fontWeight: 'normal'})});
legends.push({data: goGroups, orient: 'vertical', left: 634, top: 1526, icon: 'rect', itemWidth: 17, itemHeight: 17, itemGap: 3,
  selectedMode: false, itemStyle: {borderColor: '#333', borderWidth: 1}, textStyle: txt(17)});

// ================= G KEGG dots =================
let gSeriesIndex;
{
  const gi = 9;
  grids.push({left: 1270, top: 1184, width: 280, height: 670, show: true, borderColor: '#000', borderWidth: 2, outerBoundsMode: 'none'});
  xAxes.push({gridIndex: gi, type: 'value', min: 0.0179, max: 0.0697, splitLine: {show: false},
    axisLine: {show: true, onZero: false, lineStyle: {color: '#000', width: 2}},
    axisTick: {show: true, customValues: keggXTicks, length: 5, lineStyle: {color: '#000', width: 1.5}},
    axisLabel: Object.assign({customValues: keggXTicks, formatter: v => v.toFixed(2), margin: 10}, LBL_ALL, txt(19, {color: '#333'})),
    name: 'GeneRatio', nameLocation: 'middle', nameGap: 37, nameTextStyle: txt(22)});
  yAxes.push({gridIndex: gi, type: 'value', min: 0.39, max: 5.61, inverse: true, splitLine: {show: false},
    axisLine: {show: true, onZero: false, lineStyle: {color: '#000', width: 2}},
    axisTick: {show: true, customValues: [1, 2, 3, 4, 5], length: 5, lineStyle: {color: '#000', width: 1.5}},
    axisLabel: Object.assign({customValues: [1, 2, 3, 4, 5], formatter: v => keggTerms[Math.round(v) - 1], margin: 14, lineHeight: 21, align: 'right'}, LBL_ALL, txt(19.5))});
  gSeriesIndex = series.length;
  series.push({type: 'scatter', xAxisIndex: gi, yAxisIndex: gi, silent: true, z: 3,
    data: keggRatio.map((r, j) => [r, j + 1, keggPadj[j], keggCount[j]]),
    symbolSize: d => sizeOf(d[3]), itemStyle: {opacity: 1}});
  // colour bar
  grids.push({left: 1558, top: 1392, width: 23, height: 116, show: false, outerBoundsMode: 'none'});
  xAxes.push({gridIndex: 10, type: 'value', min: 0, max: 1, show: false});
  yAxes.push({gridIndex: 10, type: 'value', min: PMIN, max: PMAX, position: 'right', splitLine: {show: false},
    axisLine: {show: false},
    axisTick: {show: true, inside: true, customValues: padjTicks, length: 5, lineStyle: {color: '#fff', width: 1.5}},
    axisLabel: Object.assign({customValues: padjTicks, formatter: v => v.toFixed(3), margin: 12}, LBL_ALL, txt(18.5))});
  series.push({type: 'custom', xAxisIndex: 10, yAxisIndex: 10, silent: true, z: 2, data: [[0, PMIN]],
    renderItem: (params, api) => {
      const a = api.coord([0, PMAX]), b = api.coord([1, PMIN]);
      return {type: 'rect', shape: {x: a[0], y: a[1], width: b[0] - a[0], height: b[1] - a[1]},
        style: {fill: new echarts.graphic.LinearGradient(0, 0, 0, 1, [{offset: 0, color: C_HIGH}, {offset: 0.5, color: C_MID}, {offset: 1, color: C_LOW}])}};
    }});
  // size legend
  grids.push({left: 1560, top: 1558.6, width: 23, height: 95.1, show: false, outerBoundsMode: 'none'});
  xAxes.push({gridIndex: 11, type: 'value', min: 0, max: 1, show: false});
  yAxes.push({gridIndex: 11, type: 'value', min: 10, max: 30, inverse: true, show: false});
  series.push({type: 'scatter', xAxisIndex: 11, yAxisIndex: 11, silent: true, z: 3,
    data: countLegend.map(c => [0.5, c]), symbolSize: d => sizeOf(d[1]),
    itemStyle: {color: '#C8C8C8', borderColor: '#222', borderWidth: 1.5}});
  series.push({type: 'scatter', xAxisIndex: 11, yAxisIndex: 11, silent: true, z: 3, symbolSize: 1, itemStyle: {color: 'rgba(0,0,0,0)'},
    data: countLegend.map(c => ({value: [0.5, c], label: Object.assign({show: true, position: 'right', distance: 22, formatter: String(c)}, txt(18.5))}))});
  titles.push({text: 'P adj', left: 1556, top: 1366, textStyle: txt(19.5, {fontWeight: 'normal'})});
  titles.push({text: 'Counts', left: 1556, top: 1521, textStyle: txt(19.5, {fontWeight: 'normal'})});
}

// ================= Panel letters =================
[['A', 3, 4], ['B', 545, 4], ['C', 1087, 4], ['D', 2, 542], ['E', 545, 542], ['H', 1088, 544], ['F', 5, 1113], ['G', 894, 1113]]
  .forEach(([t, l, tp]) => titles.push({text: t, left: l, top: tp, padding: 0, textStyle: {fontFamily: FONT, fontSize: 42, fontWeight: 'bold', color: '#000'}}));

const chart = echarts.init(document.getElementById('chart'), null, {renderer: 'canvas', width: 1642, height: 1977});
chart.setOption({
  animation: false,
  backgroundColor: '#ffffff',
  textStyle: {fontFamily: FONT},
  title: titles,
  legend: legends,
  grid: grids,
  xAxis: xAxes,
  yAxis: yAxes,
  visualMap: [{type: 'continuous', show: false, seriesIndex: gSeriesIndex, dimension: 2, min: PMIN, max: PMAX,
    inRange: {color: [C_LOW, C_MID, C_HIGH]}}],
  graphic: graphics,
  series: series
});
</script></body></html>
